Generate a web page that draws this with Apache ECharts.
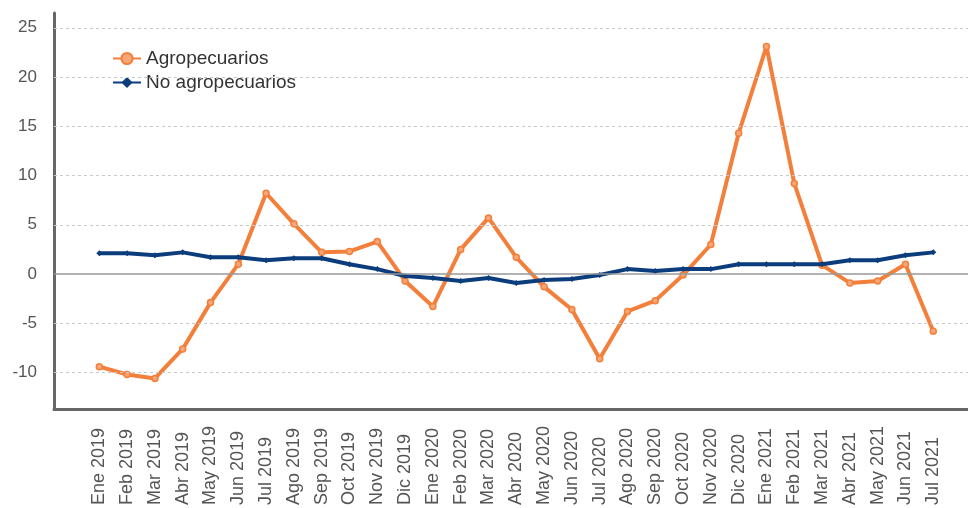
<!DOCTYPE html>
<html>
<head>
<meta charset="utf-8">
<script src="https://cdn.jsdelivr.net/npm/echarts@6/dist/echarts.min.js"></script>
<style>
  html, body { margin: 0; padding: 0; background: #fff; }
  #chart { width: 968px; height: 508px; }
</style>
</head>
<body>
<div id="chart"></div>
<script>
var months = [
  "Ene 2019", "Feb 2019", "Mar 2019", "Abr 2019", "May 2019", "Jun 2019",
  "Jul 2019", "Ago 2019", "Sep 2019", "Oct 2019", "Nov 2019", "Dic 2019",
  "Ene 2020", "Feb 2020", "Mar 2020", "Abr 2020", "May 2020", "Jun 2020",
  "Jul 2020", "Ago 2020", "Sep 2020", "Oct 2020", "Nov 2020", "Dic 2020",
  "Ene 2021", "Feb 2021", "Mar 2021", "Abr 2021", "May 2021", "Jun 2021",
  "Jul 2021"
];
var agro = [
  -9.4, -10.2, -10.6, -7.6, -2.9, 1.0,
  8.2, 5.1, 2.2, 2.3, 3.3, -0.7,
  -3.3, 2.5, 5.7, 1.7, -1.3, -3.6,
  -8.6, -3.8, -2.7, -0.1, 3.0, 14.3,
  23.1, 9.2, 0.9, -0.9, -0.7, 1.0,
  -5.8
];
var noAgro = [
  2.1, 2.1, 1.9, 2.2, 1.7, 1.7,
  1.4, 1.6, 1.6, 1.0, 0.5, -0.2,
  -0.4, -0.7, -0.4, -0.9, -0.6, -0.5,
  -0.1, 0.5, 0.3, 0.5, 0.5, 1.0,
  1.0, 1.0, 1.0, 1.4, 1.4, 1.9,
  2.2
];
var yTicks = [-10, -5, 0, 5, 10, 15, 20, 25];

var myChart = echarts.init(document.getElementById("chart"));

function pairs(values) {
  return values.map(function (v, i) { return [i, v]; });
}

// horizontal guide lines, dashed except the zero line
var gridLines = yTicks.map(function (t) {
  return {
    yAxis: t,
    lineStyle: t === 0
      ? { color: "#999", type: "solid", width: 1.5 }
      : { color: "#c8c8c8", type: [3, 3], width: 1 }
  };
});

myChart.setOption({
  animation: false,
  textStyle: { fontFamily: "Liberation Sans, Arial, sans-serif" },
  legend: {
    orient: "vertical",
    left: 107,
    top: 44,
    itemGap: 5,
    itemWidth: 28,
    itemHeight: 14,
    textStyle: { fontSize: 19, color: "#333" },
    data: ["Agropecuarios", "No agropecuarios"]
  },
  grid: { left: 54, right: 0, top: 13, bottom: 97 },
  xAxis: {
    type: "value",
    min: -1.63,
    max: 31.25,
    splitLine: { show: false },
    axisTick: { show: false },
    axisLine: { onZero: false, lineStyle: { color: "#666", width: 3 } },
    axisLabel: {
      customValues: months.map(function (m, i) { return i; }),
      formatter: function (v) { return months[v]; },
      rotate: 90,
      align: "left",
      verticalAlign: "middle",
      margin: 96,
      padding: [0, 0, 8, 0],
      fontSize: 18,
      color: "#555"
    }
  },
  yAxis: {
    type: "value",
    min: -13.7,
    max: 26.5,
    splitLine: { show: false },
    axisTick: { show: false },
    axisLine: { show: true, onZero: false, lineStyle: { color: "#666", width: 3 } },
    axisLabel: {
      customValues: yTicks,
      margin: 17,
      fontSize: 17,
      color: "#555"
    }
  },
  series: [
    {
      name: "grid",
      type: "line",
      data: [],
      silent: true,
      markLine: {
        silent: true,
        symbol: "none",
        label: { show: false },
        animation: false,
        data: gridLines
      },
      z: 1
    },
    {
      name: "Agropecuarios",
      type: "line",
      data: pairs(agro),
      symbol: "circle",
      symbolSize: 6,
      lineStyle: { color: "#f47f3a", width: 4 },
      itemStyle: { color: "#f7a777", borderColor: "#f47f3a", borderWidth: 1.5 },
      z: 3
    },
    {
      name: "No agropecuarios",
      type: "line",
      data: pairs(noAgro),
      symbol: "diamond",
      symbolSize: 6,
      lineStyle: { color: "#0b3d7c", width: 4 },
      itemStyle: { color: "#0b3d7c" },
      z: 4
    }
  ]
});
</script>
</body>
</html>
